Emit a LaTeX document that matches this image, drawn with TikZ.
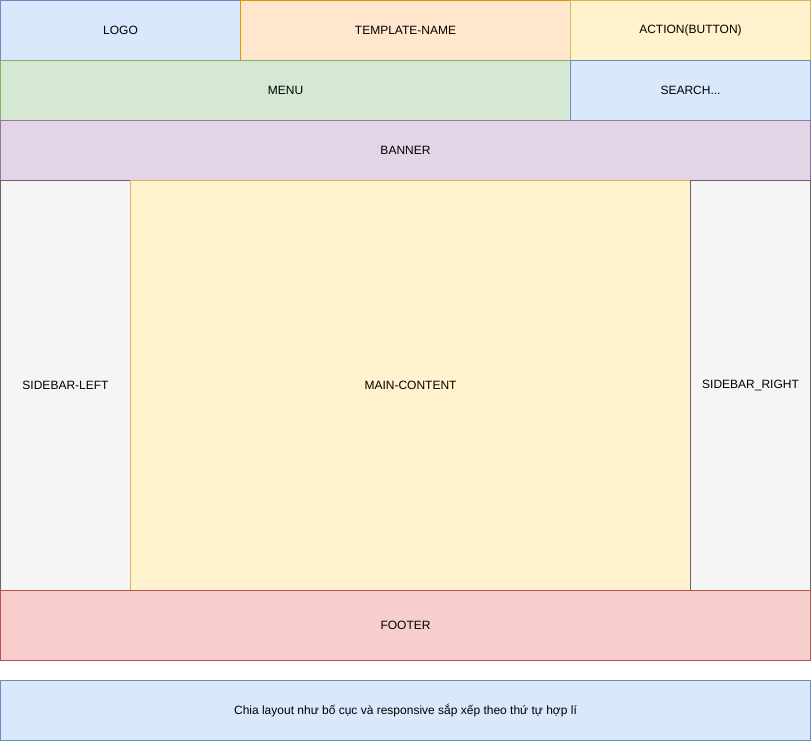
\documentclass[tikz,border=0pt]{standalone}
\usepackage{fontspec}
\setmainfont{Liberation Sans}
\definecolor{bluefill}{HTML}{DAE8FC}\definecolor{bluedraw}{HTML}{6C8EBF}
\definecolor{orangefill}{HTML}{FFE6CC}\definecolor{orangedraw}{HTML}{D79B00}
\definecolor{yellowfill}{HTML}{FFF2CC}\definecolor{yellowdraw}{HTML}{D6B656}
\definecolor{greenfill}{HTML}{D5E8D4}\definecolor{greendraw}{HTML}{82B366}
\definecolor{purplefill}{HTML}{E1D5E7}\definecolor{purpledraw}{HTML}{9673A6}
\definecolor{grayfill}{HTML}{F5F5F5}\definecolor{graydraw}{HTML}{666666}
\definecolor{redfill}{HTML}{F8CECC}\definecolor{reddraw}{HTML}{B85450}
\begin{document}
\begin{tikzpicture}[x=1pt,y=-1pt,
  box/.style={rectangle,anchor=north west,inner sep=0pt,outer sep=0pt,line width=1pt,font=\fontsize{12}{14}\selectfont},
  bluebox/.style={box,fill=bluefill,draw=bluedraw},
  orangebox/.style={box,fill=orangefill,draw=orangedraw},
  yellowbox/.style={box,fill=yellowfill,draw=yellowdraw},
  greenbox/.style={box,fill=greenfill,draw=greendraw},
  purplebox/.style={box,fill=purplefill,draw=purpledraw},
  graybox/.style={box,fill=grayfill,draw=graydraw},
  redbox/.style={box,fill=redfill,draw=reddraw}]
\useasboundingbox[fill=white] (0,0) rectangle (811,741);
\node[bluebox,minimum width=240pt,minimum height=60pt] (logo) at (0.5,0.5) {LOGO};
\node[orangebox,minimum width=330pt,minimum height=60pt] (tname) at (240.5,0.5) {TEMPLATE-NAME};
\node[yellowbox,minimum width=240pt,minimum height=60pt] (action) at (570.5,0.5) {ACTION(BUTTON)};
\node[greenbox,minimum width=570pt,minimum height=60pt] (menu) at (0.5,60.5) {MENU};
\node[bluebox,minimum width=240pt,minimum height=60pt] (search) at (570.5,60.5) {SEARCH...};
\node[purplebox,minimum width=810pt,minimum height=60pt] (banner) at (0.5,120.5) {BANNER};
\node[graybox,minimum width=130pt,minimum height=410pt] (sleft) at (0.5,180.5) {SIDEBAR-LEFT};
\node[yellowbox,minimum width=560pt,minimum height=410pt] (main) at (130.5,180.5) {MAIN-CONTENT};
\node[graybox,minimum width=120pt,minimum height=410pt] (sright) at (690.5,180.5) {SIDEBAR\_RIGHT};
\node[redbox,minimum width=810pt,minimum height=70pt] (footer) at (0.5,590.5) {FOOTER};
\node[bluebox,minimum width=810pt,minimum height=60pt] (note) at (0.5,680.5) {Chia layout như bố cục và responsive sắp xếp theo thứ tự hợp lí};
\end{tikzpicture}
\end{document}
